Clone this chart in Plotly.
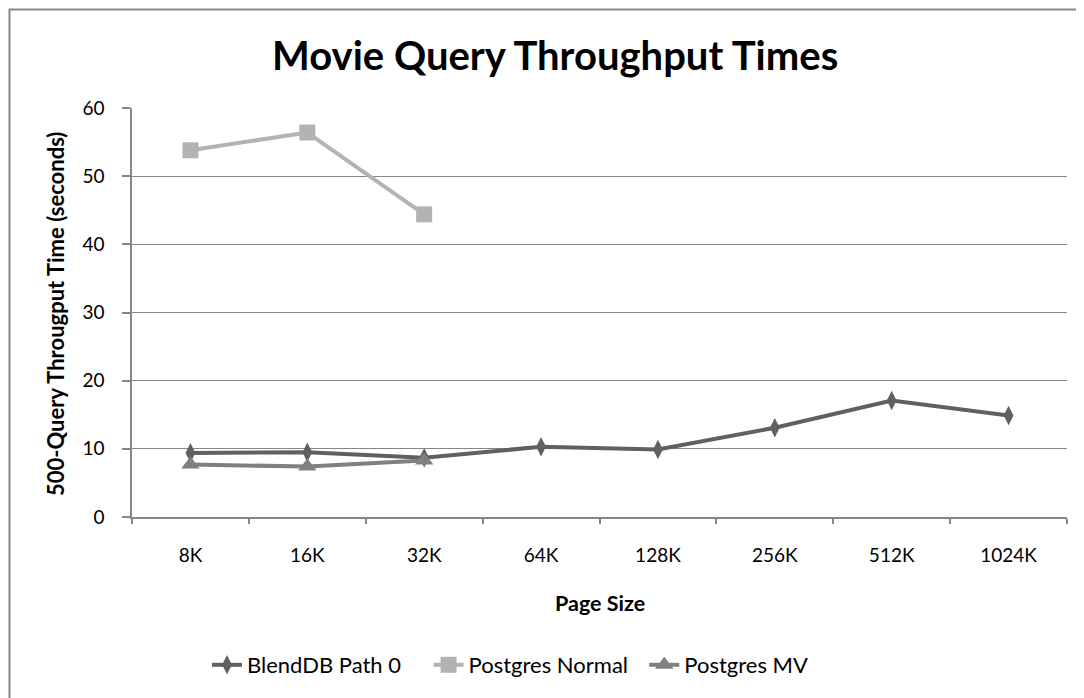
import plotly.graph_objects as go

page_sizes = ["8K", "16K", "32K", "64K", "128K", "256K", "512K", "1024K"]
blenddb_path0 = [9.4, 9.5, 8.7, 10.3, 9.9, 13.1, 17.1, 14.9]
postgres_normal = [53.8, 56.4, 44.4]
postgres_mv = [7.7, 7.4, 8.3]

FONT = "Lato"
GRID = "#868686"
PAD1 = "\u00a0" * 4
PAD2 = "\u00a0" * 2

OFF = 8  # page body margin
W, H = 1076, 690
# plot area in screen pixels
L, R, T, B = 132, 1067, 108, 517


def px(x):
    return (x - L) / (R - L)


def py(y):
    return (B - y) / (B - T)


fig = go.Figure()
fig.add_trace(go.Scatter(
    x=page_sizes, y=blenddb_path0, name="BlendDB Path 0" + PAD1, mode="lines+markers",
    line=dict(color="#606060", width=4),
    marker=dict(symbol="diamond-tall", size=14, color="#606060"),
))
fig.add_trace(go.Scatter(
    x=page_sizes[:len(postgres_normal)], y=postgres_normal, name="Postgres Normal" + PAD2,
    mode="lines+markers",
    line=dict(color="#b3b3b3", width=4),
    marker=dict(symbol="square", size=16, color="#b3b3b3"),
))
fig.add_trace(go.Scatter(
    x=page_sizes[:len(postgres_mv)], y=postgres_mv, name="Postgres MV",
    mode="lines+markers",
    line=dict(color="#808080", width=4),
    marker=dict(symbol="triangle-up", size=16, color="#808080"),
))

fig.update_layout(
    width=W, height=H,
    margin=dict(l=L - OFF, r=W - (R - OFF), t=T - OFF, b=H - (B - OFF), pad=0),
    paper_bgcolor="white", plot_bgcolor="white",
    font=dict(family=FONT, size=19, color="black"),
    showlegend=True,
    legend=dict(orientation="h", x=px(207), y=py(665), xanchor="left", yanchor="middle",
                font=dict(size=22), itemwidth=30, tracegroupgap=0),
    xaxis=dict(
        type="category", categoryorder="array", categoryarray=page_sizes,
        range=[-0.5, len(page_sizes) - 0.5],
        showline=True, linecolor=GRID, linewidth=1.5,
        showgrid=False, ticks="outside", ticklen=5, tickcolor=GRID, tickwidth=1.5,
        tickson="boundaries", ticklabelstandoff=20,
        tickfont=dict(size=19),
    ),
    yaxis=dict(
        range=[0, 60], dtick=10, tick0=0,
        showline=True, linecolor=GRID, linewidth=1.5,
        showgrid=True, gridcolor=GRID, gridwidth=1.2,
        ticks="outside", ticklen=8, tickcolor=GRID, tickwidth=1.5,
        ticklabelstandoff=14, zeroline=False,
        tickfont=dict(size=19),
    ),
    annotations=[
        dict(text="<b>Movie Query Throughput Times</b>", x=px(555), y=py(55),
             xref="paper", yref="paper", showarrow=False, xanchor="center", yanchor="middle",
             font=dict(size=40, family=FONT)),
        dict(text="<b>500-Query Througput Time (seconds)</b>", x=px(55), y=py(314),
             xref="paper", yref="paper", showarrow=False, textangle=-90,
             xanchor="center", yanchor="middle", font=dict(size=22, family=FONT)),
        dict(text="<b>Page Size</b>", x=px(600), y=py(603),
             xref="paper", yref="paper", showarrow=False,
             xanchor="center", yanchor="middle", font=dict(size=21.5, family=FONT)),
    ],
    shapes=[
        dict(type="rect", xref="paper", yref="paper",
             x0=px(9.5), y0=py(720), x1=px(1100), y1=py(9.5),
             line=dict(color=GRID, width=2), fillcolor="rgba(0,0,0,0)", layer="below"),
    ],
)

fig.write_html("out.html")
